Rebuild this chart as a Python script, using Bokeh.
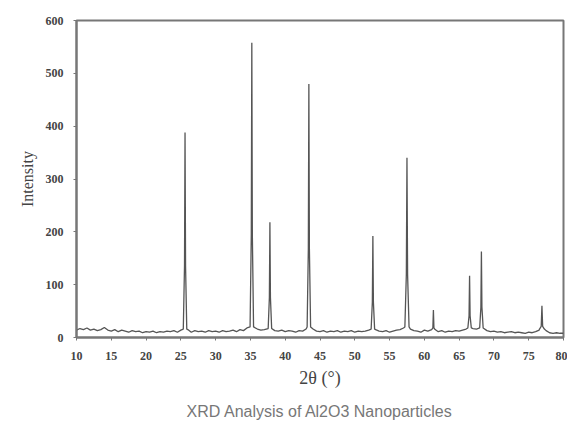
from bokeh.plotting import figure
from bokeh.models import Title, FixedTicker
from bokeh.embed import file_html
from bokeh.resources import INLINE

# --- data ---
base_start = 10.0
base_step = 0.5
baseline = [14, 17, 15, 18, 14, 16, 13, 15, 19, 14, 12, 15, 11, 14, 12, 10, 13, 11, 12, 9,
            11, 10, 12, 9, 11, 10, 12, 11, 13, 10, 14, 16, 15, 10, 13, 11, 12, 10, 13, 11,
            12, 10, 13, 11, 12, 14, 11, 15, 13, 18, 20, 22, 16, 14, 15, 18, 17, 13, 12, 14,
            11, 13, 12, 10, 13, 12, 16, 20, 16, 12, 11, 13, 10, 12, 11, 13, 10, 12, 11, 13,
            10, 12, 11, 12, 14, 16, 15, 12, 11, 13, 10, 12, 14, 15, 18, 20, 16, 13, 12, 10,
            14, 12, 16, 15, 11, 13, 10, 12, 11, 13, 12, 14, 16, 18, 17, 16, 18, 16, 13, 11,
            12, 10, 11, 9, 10, 11, 9, 10, 9, 8, 10, 9, 11, 14, 16, 13, 9, 8, 9, 8, 8]
peak_pos = [25.6, 35.2, 37.8, 43.4, 52.6, 57.5, 61.3, 66.5, 68.2, 76.9]
peak_height = [388, 558, 218, 480, 192, 340, 52, 117, 163, 60]
peak_halfwidth = [0.25, 0.25, 0.25, 0.25, 0.25, 0.3, 0.25, 0.25, 0.25, 0.35]

x_ticks = [10, 15, 20, 25, 30, 35, 40, 45, 50, 55, 60, 65, 70, 75, 80]
y_ticks = [0, 100, 200, 300, 400, 500, 600]

# build the pattern: baseline points away from peaks, plus peak profiles
base_x = [base_start + i * base_step for i in range(len(baseline))]
pts = []
for bx, by in zip(base_x, baseline):
    if all(abs(bx - p) > hw + 0.05 for p, hw in zip(peak_pos, peak_halfwidth)):
        pts.append((bx, by))
for p, h, hw in zip(peak_pos, peak_height, peak_halfwidth):
    i = min(range(len(base_x)), key=lambda k: abs(base_x[k] - p))
    b = baseline[i]
    pts.append((p - hw, b))
    pts.append((p - hw * 0.3, h * 0.35))
    pts.append((p, h))
    pts.append((p + hw * 0.3, h * 0.35))
    pts.append((p + hw, b))
pts.sort()
xs = [q[0] for q in pts]
ys = [q[1] for q in pts]

p = figure(width=567, height=430, x_range=(10, 80), y_range=(0, 600),
           output_backend="svg", toolbar_location=None,
           min_border_left=76, min_border_right=4, min_border_top=20, min_border_bottom=93)
p.background_fill_color = "white"
p.border_fill_color = "white"
p.grid.visible = False
p.outline_line_color = "#777777"
p.outline_line_width = 2

p.line(xs, ys, line_color="#555555", line_width=1.3)

p.xaxis.ticker = FixedTicker(ticks=x_ticks)
p.yaxis.ticker = FixedTicker(ticks=y_ticks)
for ax in (p.xaxis[0], p.yaxis[0]):
    ax.axis_line_color = "#777777"
    ax.axis_line_width = 2
    ax.major_tick_line_color = "#777777"
    ax.major_tick_in = 0
    ax.major_tick_out = 3
    ax.minor_tick_line_color = None
    ax.major_label_text_font = "Liberation Serif"
    ax.major_label_text_font_style = "bold"
    ax.major_label_text_font_size = "12px"
    ax.major_label_text_color = "#444444"
    ax.axis_label_text_font = "Liberation Serif"
    ax.axis_label_text_font_style = "normal"
    ax.axis_label_text_color = "#444444"

p.xaxis.major_label_standoff = 11
p.yaxis.major_label_standoff = 10
p.xaxis.axis_label = "2θ (°)"
p.xaxis.axis_label_text_font_size = "18px"
p.xaxis.axis_label_standoff = 5
p.yaxis.axis_label = "Intensity"
p.yaxis.axis_label_text_font_size = "16px"
p.yaxis.axis_label_standoff = 7

t = Title(text="XRD Analysis of Al2O3 Nanoparticles", align="center",
          text_font="Liberation Sans", text_font_size="16px", text_font_style="normal",
          text_color="#777777", standoff=20)
p.add_layout(t, "below")

open("out.html", "w").write(file_html(p, INLINE))
